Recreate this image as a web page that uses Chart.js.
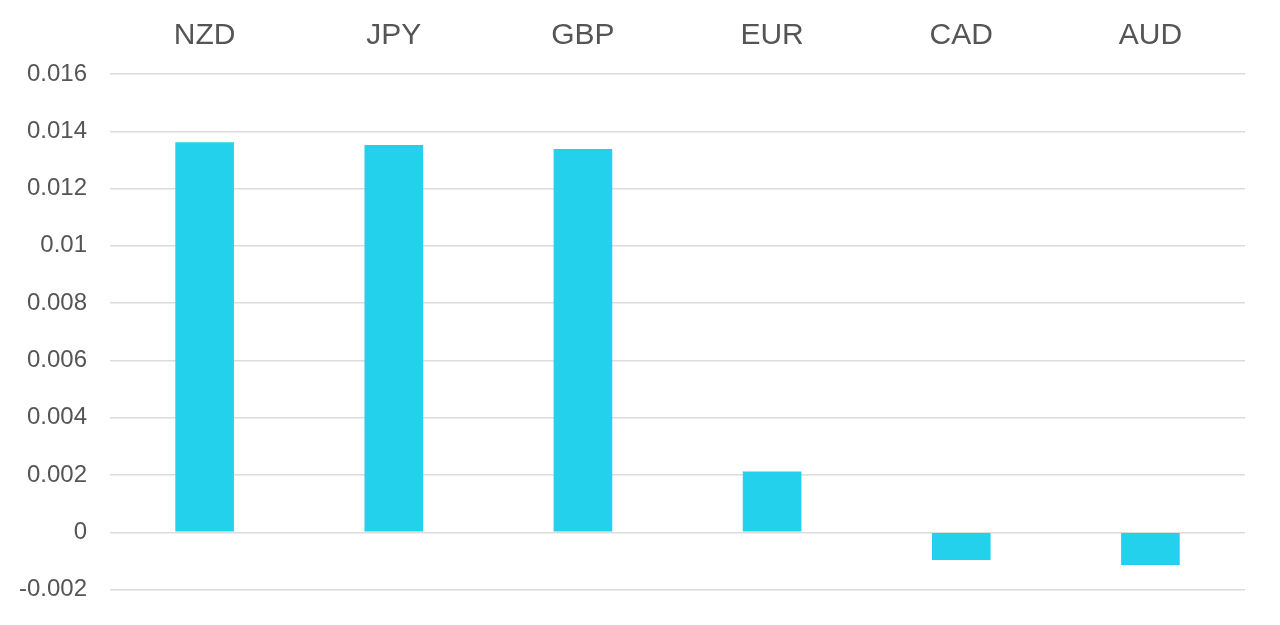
<!DOCTYPE html>
<html>
<head>
<meta charset="utf-8">
<script src="https://cdn.jsdelivr.net/npm/chart.js@4"></script>
<style>
html,body{margin:0;padding:0;background:#fff;overflow:hidden;}
#outer{width:1280px;height:625px;position:relative;overflow:hidden;}
#wrap{width:1284px;height:636px;position:absolute;left:-4px;top:-9px;}
</style>
</head>
<body>
<div id="outer"><div id="wrap"><canvas id="c"></canvas></div></div>
<script>
const categories = ["NZD", "JPY", "GBP", "EUR", "CAD", "AUD"];
const values = [0.01362, 0.01352, 0.01338, 0.00212, -0.00097, -0.00114];
const yMin = -0.002, yMax = 0.016, yStep = 0.002;

new Chart(document.getElementById('c'), {
  type: 'bar',
  data: {
    labels: categories,
    datasets: [{
      data: values,
      backgroundColor: '#23d1ec',
      borderWidth: 0,
      categoryPercentage: 1,
      barPercentage: 0.31
    }]
  },
  options: {
    responsive: true,
    maintainAspectRatio: false,
    animation: false,
    layout: { padding: { left: 0, right: 35, top: 7, bottom: 33 } },
    plugins: { legend: { display: false }, tooltip: { enabled: false } },
    scales: {
      x: {
        position: 'top',
        grid: { display: false, drawTicks: false },
        border: { display: false },
        ticks: {
          color: '#555',
          font: { family: 'Liberation Sans, Arial, Helvetica, sans-serif', size: 30 },
          padding: 20
        }
      },
      y: {
        min: yMin, max: yMax,
        grid: { color: '#dcdcdc', lineWidth: 1.5, drawTicks: false },
        border: { display: false },
        ticks: {
          stepSize: yStep,
          color: '#555',
          padding: 23,
          font: { family: 'Liberation Sans, Arial, Helvetica, sans-serif', size: 24 },
          callback: v => String(parseFloat(Number(v).toFixed(3)))
        }
      }
    }
  }
});
</script>
</body>
</html>
